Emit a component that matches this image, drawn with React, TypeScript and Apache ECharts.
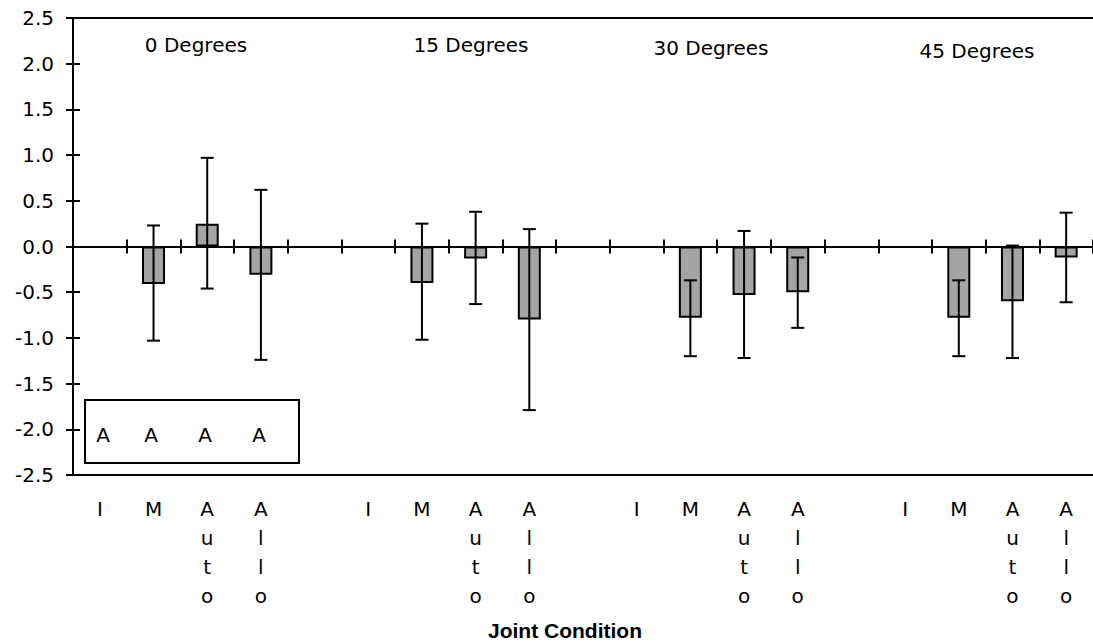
import React, { useEffect, useRef } from 'react';
import * as echarts from 'echarts';

const categories = ['I', 'M', 'Auto', 'Allo', '', 'I', 'M', 'Auto', 'Allo', '', 'I', 'M', 'Auto', 'Allo', '', 'I', 'M', 'Auto', 'Allo'];
const meanValues = [null, -0.41, 0.25, -0.31, null, null, -0.40, -0.13, -0.80, null, null, -0.78, -0.53, -0.50, null, null, -0.78, -0.60, -0.12];
const errorHigh = [null, 0.23, 0.97, 0.62, null, null, 0.25, 0.38, 0.19, null, null, -0.37, 0.17, -0.12, null, null, -0.37, 0.01, 0.37];
const errorLow = [null, -1.03, -0.46, -1.24, null, null, -1.02, -0.63, -1.79, null, null, -1.20, -1.22, -0.89, null, null, -1.20, -1.22, -0.61];
const yMin = -2.5;
const yMax = 2.5;
const yInterval = 0.5;
const groupTitles = ['0 Degrees', '15 Degrees', '30 Degrees', '45 Degrees'];
const legendLabels = ['A', 'A', 'A', 'A'];
const axisTitle = 'Joint Condition';

const FONT = 'DejaVu Sans';

export default function App() {
  const ref = useRef<HTMLDivElement>(null);
  useEffect(() => {
    if (!ref.current) return;
    const chart = echarts.init(ref.current, undefined, { renderer: 'svg' });
    const errData = categories
      .map((_, i) => (errorHigh[i] == null ? null : [i, errorLow[i], errorHigh[i]]))
      .filter((d) => d !== null);
    const gridRect = { left: 73, top: 18, width: 1027, height: 457 };
    const lineStyle = { color: '#000', width: 2 };
    const titleX = [196, 471, 711, 977];
    const titleY = [45, 45, 48, 51];
    const legendX = [103, 151, 205, 259];
    const option: any = {
      animation: false,
      backgroundColor: '#fff',
      grid: [gridRect, gridRect],
      xAxis: [
        {
          gridIndex: 0,
          type: 'category',
          data: categories,
          position: 'bottom',
          axisLine: { onZero: false, lineStyle },
          axisTick: { show: false },
          axisLabel: {
            interval: 0,
            color: '#000',
            fontFamily: FONT,
            fontSize: 20,
            lineHeight: 29,
            margin: 19,
            formatter: (v: string) => v.split('').join('\n'),
          },
          splitLine: { show: false },
        },
        {
          gridIndex: 0,
          type: 'category',
          data: categories,
          position: 'top',
          axisLine: { onZero: true, lineStyle },
          axisTick: { show: true, inside: true, length: 7, interval: 0, lineStyle },
          axisLabel: { show: false },
          splitLine: { show: false },
        },
        {
          gridIndex: 1,
          type: 'category',
          data: categories,
          position: 'bottom',
          axisLine: { onZero: true, lineStyle },
          axisTick: { show: true, inside: true, length: 7, interval: 0, lineStyle },
          axisLabel: { show: false },
          splitLine: { show: false },
        },
        {
          gridIndex: 1,
          type: 'category',
          data: categories,
          position: 'top',
          axisLine: { onZero: false, lineStyle },
          axisTick: { show: false },
          axisLabel: { show: false },
          splitLine: { show: false },
        },
      ],
      yAxis: [
        {
          gridIndex: 0,
          type: 'value',
          min: yMin,
          max: yMax,
          interval: yInterval,
          position: 'left',
          axisLine: { show: true, onZero: false, lineStyle },
          axisTick: { show: true, length: 7, lineStyle },
          axisLabel: {
            color: '#000',
            fontFamily: FONT,
            fontSize: 20,
            margin: 19,
            formatter: (v: number) => v.toFixed(1),
          },
          splitLine: { show: false },
        },
        {
          gridIndex: 1,
          type: 'value',
          min: yMin,
          max: yMax,
          interval: yInterval,
          position: 'left',
          axisLine: { show: false, onZero: false },
          axisTick: { show: true, inside: true, length: 7, lineStyle },
          axisLabel: { show: false },
          splitLine: { show: false },
        },
      ],
      series: [
        {
          type: 'bar',
          xAxisIndex: 0,
          yAxisIndex: 0,
          data: meanValues,
          barWidth: 23,
          itemStyle: { color: '#a4a4a4', borderColor: '#000', borderWidth: 2 },
          z: 2,
        },
        {
          type: 'custom',
          xAxisIndex: 0,
          yAxisIndex: 0,
          data: errData,
          encode: { x: 0, y: [1, 2] },
          z: 3,
          renderItem: (params: any, api: any) => {
            const x = api.value(0);
            const lo = api.coord([x, api.value(1)]);
            const hi = api.coord([x, api.value(2)]);
            const cap = 6.5;
            const st = { stroke: '#000', lineWidth: 2 };
            return {
              type: 'group',
              children: [
                { type: 'line', shape: { x1: hi[0], y1: hi[1], x2: lo[0], y2: lo[1] }, style: st },
                { type: 'line', shape: { x1: hi[0] - cap, y1: hi[1], x2: hi[0] + cap, y2: hi[1] }, style: st },
                { type: 'line', shape: { x1: lo[0] - cap, y1: lo[1], x2: lo[0] + cap, y2: lo[1] }, style: st },
              ],
            };
          },
        },
      ],
      graphic: [
        ...groupTitles.map((t, i) => ({
          type: 'text',
          x: titleX[i],
          y: titleY[i],
          style: { text: t, fill: '#000', font: `20px "${FONT}"`, textAlign: 'center', textVerticalAlign: 'middle' },
          z: 10,
        })),
        {
          type: 'rect',
          shape: { x: 85, y: 400, width: 214, height: 63 },
          style: { fill: '#fff', stroke: '#000', lineWidth: 2 },
          z: 10,
        },
        ...legendLabels.map((t, i) => ({
          type: 'text',
          x: legendX[i],
          y: 435,
          style: { text: t, fill: '#000', font: `20px "${FONT}"`, textAlign: 'center', textVerticalAlign: 'middle' },
          z: 11,
        })),
        {
          type: 'text',
          x: 565,
          y: 630,
          style: { text: axisTitle, fill: '#000', font: `bold 21px "Liberation Sans"`, textAlign: 'center', textVerticalAlign: 'middle' },
          z: 10,
        },
      ],
    };
    chart.setOption(option);
    return () => chart.dispose();
  }, []);
  return <div ref={ref} style={{ position: 'fixed', left: 0, top: 0, width: 1093, height: 643 }} />;
}
